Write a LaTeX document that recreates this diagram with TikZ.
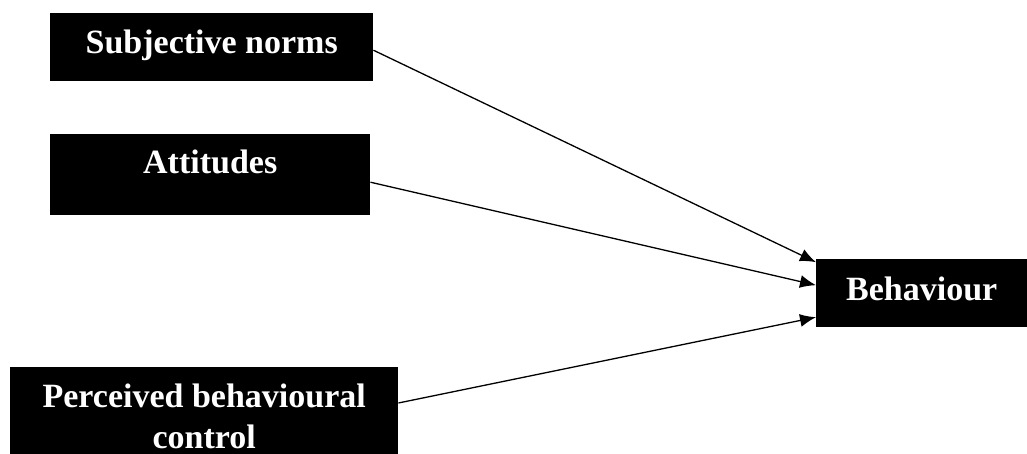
\documentclass[tikz,border=0pt]{standalone}
\usepackage{fontspec}
\setmainfont{Liberation Serif}
\usetikzlibrary{positioning, arrows.meta}

\begin{document}
\begin{tikzpicture}[x=1pt, y=-1pt,
    box/.style={fill=black, text=white, font=\fontsize{34}{41}\selectfont\bfseries, inner xsep=0pt, inner ysep=0pt, anchor=north west},
    arr/.style={-{Latex[length=16pt, width=13pt]}, line width=1.3pt}]
    \useasboundingbox (0,0) rectangle (1027,454);

    % Boxes
    \node[box, minimum width=323pt, text height=40pt, text depth=28pt] (sn) at (50,13) {Subjective norms};
    \node[box, minimum width=320pt, text height=39pt, text depth=42pt] (att) at (50,134) {Attitudes};
    \node[box, minimum width=388pt, inner ysep=17pt, align=center] (pbc) at (10,367) {Perceived behavioural\\control};
    \node[box, minimum width=211pt, text height=41pt, text depth=27pt] (beh) at (816,259) {Behaviour};

    % Arrows
    \draw[arr] ([yshift=-3pt]sn.east) -- ([yshift=31pt]beh.west);
    \draw[arr] ([yshift=-7.5pt]att.east) -- ([yshift=8pt]beh.west);
    \draw[arr] ([yshift=-36pt]pbc.north east) -- ([yshift=-24pt]beh.west);
\end{tikzpicture}
\end{document}
